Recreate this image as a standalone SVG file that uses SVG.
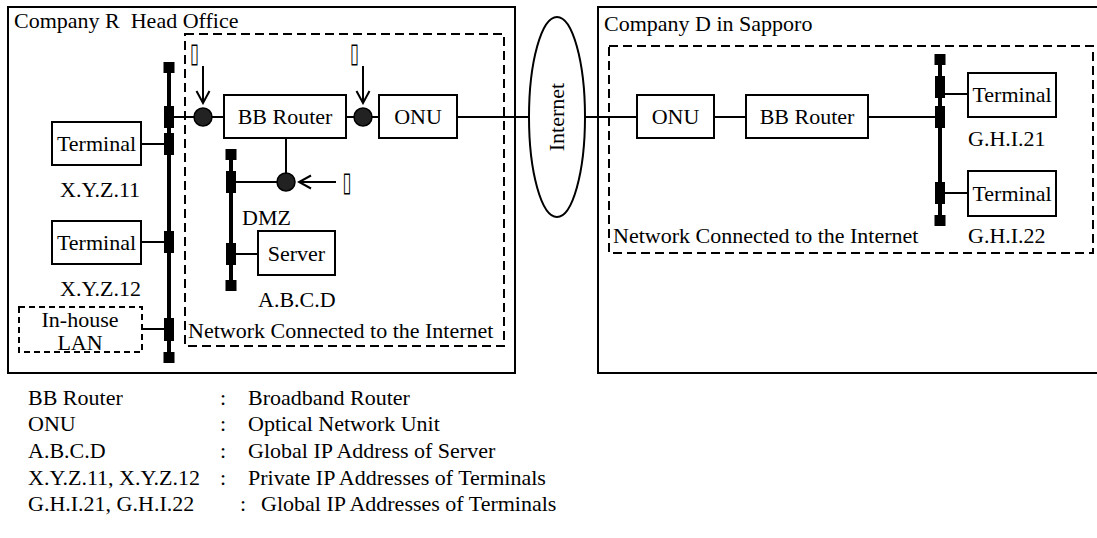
<svg xmlns="http://www.w3.org/2000/svg" width="1097" height="538" viewBox="0 0 1097 538">
  <style>
    text { font-family: "Liberation Serif", "Times New Roman", serif; font-size: 22px; fill: #000; }
    .mid { text-anchor: middle; }
    .frame { fill: #fff; stroke: #000; stroke-width: 2; }
    .zone { fill: none; stroke: #000; stroke-width: 2; stroke-dasharray: 9 5; }
    .box { fill: #fff; stroke: #000; stroke-width: 2; }
    .dbox { fill: #fff; stroke: #000; stroke-width: 2; stroke-dasharray: 6 4; }
    .wire { fill: none; stroke: #000; stroke-width: 2; }
    .bus { fill: none; stroke: #000; stroke-width: 4; }
    .tap { fill: #000; }
    .cap { fill: #000; }
    .probe { fill: #222; stroke: #000; stroke-width: 1.5; }
    .arrow { fill: none; stroke: #000; stroke-width: 2; marker-end: url(#vhead); }
    .tag { font-family: "DejaVu Sans", sans-serif; font-size: 27px; text-anchor: middle; }
  </style>
  <defs>
    <marker id="vhead" markerUnits="userSpaceOnUse" markerWidth="16" markerHeight="16" viewBox="0 0 16 16" refX="14" refY="8" orient="auto">
      <path d="M2,1.5 L14,8 L2,14.5" fill="none" stroke="#000" stroke-width="2"/>
    </marker>
  </defs>

  <rect width="1097" height="538" fill="#fff"/>

  <!-- sites -->
  <g id="site-head-office">
    <rect class="frame" x="8" y="7" width="507" height="366"/>
    <text x="14" y="28" xml:space="preserve">Company R  Head Office</text>
  </g>
  <g id="site-sapporo">
    <rect class="frame" x="598" y="7" width="510" height="366"/>
    <text x="604" y="31">Company D in Sapporo</text>
  </g>
  <g id="zone-left">
    <rect class="zone" x="185" y="34" width="319" height="312"/>
    <text x="188" y="338">Network Connected to the Internet</text>
  </g>
  <g id="zone-right">
    <rect class="zone" x="609" y="46" width="484" height="207"/>
    <text x="613" y="243">Network Connected to the Internet</text>
  </g>

  <!-- connectors -->
  <g id="connectors">
    <!-- head office LAN bus -->
    <line class="bus" x1="169" y1="62" x2="169" y2="362"/>
    <rect class="cap" x="163.5" y="62" width="11" height="11"/>
    <rect class="tap" x="164" y="106" width="10" height="22"/>
    <rect class="tap" x="164" y="133" width="10" height="22"/>
    <rect class="tap" x="164" y="231" width="10" height="22"/>
    <rect class="tap" x="164" y="318" width="10" height="23"/>
    <rect class="cap" x="163.5" y="352" width="11" height="11"/>
    <line class="wire" x1="141" y1="144" x2="164" y2="144"/>
    <line class="wire" x1="141" y1="242" x2="164" y2="242"/>
    <line class="wire" x1="142" y1="329" x2="164" y2="329"/>
    <line class="wire" x1="174" y1="117" x2="224" y2="117"/>
    <line class="wire" x1="346" y1="117" x2="379" y2="117"/>
    <line class="wire" x1="457" y1="117" x2="529" y2="117"/>

    <!-- DMZ bus -->
    <line class="bus" x1="231" y1="149" x2="231" y2="291"/>
    <rect class="cap" x="225.5" y="149" width="11" height="11"/>
    <rect class="tap" x="226" y="171" width="10" height="22"/>
    <rect class="tap" x="226" y="243" width="10" height="22"/>
    <rect class="cap" x="225.5" y="280" width="11" height="11"/>
    <line class="wire" x1="286" y1="138" x2="286" y2="182"/>
    <line class="wire" x1="236" y1="182" x2="286" y2="182"/>
    <line class="wire" x1="236" y1="254" x2="258" y2="254"/>

    <!-- Sapporo side -->
    <line class="wire" x1="585" y1="117" x2="637" y2="117"/>
    <line class="wire" x1="714" y1="117" x2="746" y2="117"/>
    <line class="wire" x1="868" y1="117" x2="935" y2="117"/>
    <line class="bus" x1="940" y1="54" x2="940" y2="226"/>
    <rect class="cap" x="934.5" y="54" width="11" height="11"/>
    <rect class="tap" x="935" y="76" width="10" height="22"/>
    <rect class="tap" x="935" y="106" width="10" height="22"/>
    <rect class="tap" x="935" y="182" width="10" height="22"/>
    <rect class="cap" x="934.5" y="215" width="11" height="11"/>
    <line class="wire" x1="945" y1="94" x2="968" y2="94"/>
    <line class="wire" x1="945" y1="193" x2="968" y2="193"/>

    <!-- measurement points -->
    <circle class="probe" cx="203" cy="117" r="9"/>
    <circle class="probe" cx="363" cy="117" r="9"/>
    <circle class="probe" cx="286" cy="182" r="9"/>
    <line class="arrow" x1="203" y1="66" x2="203" y2="103"/>
    <line class="arrow" x1="363" y1="66" x2="363" y2="103"/>
    <line class="arrow" x1="336" y1="182" x2="299" y2="182"/>
  </g>

  <!-- point tags -->
  <text class="tag" transform="translate(194.5,62) scale(0.6,1)">▯</text>
  <text class="tag" transform="translate(354.5,62) scale(0.6,1)">▯</text>
  <text class="tag" transform="translate(347,191) scale(0.6,1)">▯</text>

  <!-- head office nodes -->
  <g id="terminal-xyz11">
    <rect class="box" x="52" y="122" width="89" height="43"/>
    <text class="mid" x="96.5" y="151">Terminal</text>
    <text x="60" y="197">X.Y.Z.11</text>
  </g>
  <g id="terminal-xyz12">
    <rect class="box" x="52" y="221" width="89" height="43"/>
    <text class="mid" x="96.5" y="250">Terminal</text>
    <text x="60" y="296">X.Y.Z.12</text>
  </g>
  <g id="inhouse-lan">
    <rect class="dbox" x="19" y="307" width="123" height="45"/>
    <text class="mid" x="80" y="327">In-house</text>
    <text class="mid" x="80" y="350">LAN</text>
  </g>
  <g id="bb-router-r">
    <rect class="box" x="224" y="95" width="122" height="43"/>
    <text class="mid" x="285" y="124">BB Router</text>
  </g>
  <g id="onu-r">
    <rect class="box" x="379" y="95" width="78" height="43"/>
    <text class="mid" x="418" y="124">ONU</text>
  </g>
  <g id="dmz">
    <text x="242" y="225">DMZ</text>
  </g>
  <g id="server">
    <rect class="box" x="258" y="231" width="77" height="44"/>
    <text class="mid" x="296.5" y="261">Server</text>
    <text x="258" y="307">A.B.C.D</text>
  </g>

  <!-- internet -->
  <g id="internet">
    <ellipse cx="557" cy="117" rx="28" ry="100" fill="#fff" stroke="#000" stroke-width="2"/>
    <text class="mid" transform="translate(564,117) rotate(-90)" x="0" y="0">Internet</text>
  </g>

  <!-- Sapporo nodes -->
  <g id="onu-d">
    <rect class="box" x="637" y="95" width="77" height="43"/>
    <text class="mid" x="675.5" y="124">ONU</text>
  </g>
  <g id="bb-router-d">
    <rect class="box" x="746" y="95" width="122" height="43"/>
    <text class="mid" x="807" y="124">BB Router</text>
  </g>
  <g id="terminal-ghi21">
    <rect class="box" x="968" y="73" width="88" height="44"/>
    <text class="mid" x="1012" y="102">Terminal</text>
    <text x="968" y="146">G.H.I.21</text>
  </g>
  <g id="terminal-ghi22">
    <rect class="box" x="968" y="171" width="88" height="45"/>
    <text class="mid" x="1012" y="201">Terminal</text>
    <text x="968" y="243">G.H.I.22</text>
  </g>

  <!-- legend -->
  <g id="legend">
    <text x="28" y="405">BB Router</text>
    <text x="220" y="405">:</text>
    <text x="248" y="405">Broadband Router</text>
    <text x="28" y="431">ONU</text>
    <text x="220" y="431">:</text>
    <text x="248" y="431">Optical Network Unit</text>
    <text x="28" y="458">A.B.C.D</text>
    <text x="220" y="458">:</text>
    <text x="248" y="458">Global IP Address of Server</text>
    <text x="28" y="485">X.Y.Z.11, X.Y.Z.12</text>
    <text x="220" y="485">:</text>
    <text x="248" y="485">Private IP Addresses of Terminals</text>
    <text x="28" y="511">G.H.I.21, G.H.I.22</text>
    <text x="240" y="511">:</text>
    <text x="261" y="511">Global IP Addresses of Terminals</text>
  </g>
</svg>
